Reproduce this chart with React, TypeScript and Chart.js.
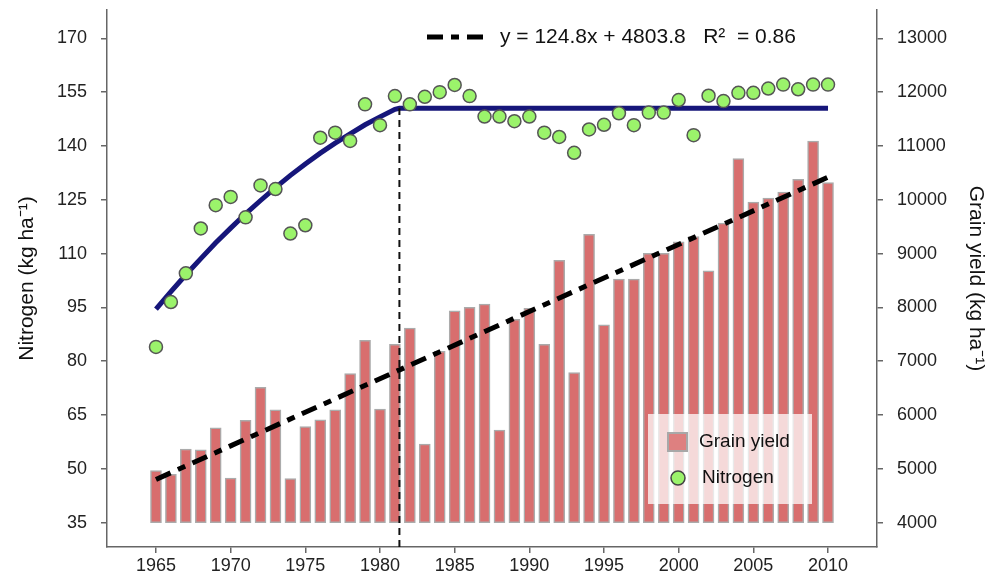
import React, { useEffect, useRef } from 'react';
import { Chart, registerables } from 'chart.js';

Chart.register(...registerables);

// ---------- data ----------
const years = [
  1965, 1966, 1967, 1968, 1969, 1970, 1971, 1972, 1973, 1974,
  1975, 1976, 1977, 1978, 1979, 1980, 1981, 1982, 1983, 1984,
  1985, 1986, 1987, 1988, 1989, 1990, 1991, 1992, 1993, 1994,
  1995, 1996, 1997, 1998, 1999, 2000, 2001, 2002, 2003, 2004,
  2005, 2006, 2007, 2008, 2009, 2010,
];

const grainYield = [
  4970, 4900, 5370, 5355, 5765, 4830, 5900, 6515, 6095, 4820,
  5785, 5910, 6095, 6770, 7390, 6110, 7315, 7615, 5460, 7185,
  7935, 8000, 8060, 5720, 7780, 7985, 7315, 8875, 6790, 9360,
  7675, 8525, 8525, 9005, 9005, 9220, 9315, 8680, 9565, 10765,
  9955, 10030, 10145, 10380, 11090, 10320,
];

const nitrogen = [
  84.0, 96.5, 104.5, 117.0, 123.5, 125.8, 120.1, 129.0, 128.0, 115.6,
  117.9, 142.3, 143.7, 141.4, 151.6, 145.8, 153.9, 151.6, 153.7, 155.0,
  157.0, 153.9, 148.2, 148.2, 146.9, 148.2, 143.7, 142.5, 138.1, 144.6,
  145.9, 149.1, 145.8, 149.3, 149.3, 152.8, 143.0, 154.0, 152.5, 154.8,
  154.8, 156.0, 157.1, 155.8, 157.1, 157.1,
];

// quadratic-plateau fit
const curveYears = [
  1965, 1966, 1967, 1968, 1969, 1970, 1971, 1972, 1973, 1974,
  1975, 1976, 1977, 1978, 1979, 1980, 1981, 1981.3, 2010,
];
const curveValues = [
  94.5, 99.4, 104.1, 108.6, 113.0, 117.1, 121.1, 124.8, 128.4, 131.8,
  135.0, 138.0, 140.8, 143.4, 145.9, 148.1, 150.2, 150.5, 150.5,
];

// yield regression line: y = 124.8x + 4803.8
const regressionYears = [1965, 2010];
const regressionValues = [4803.8, 10419.8];
const regressionLabel = 'y = 124.8x + 4803.8   R\u00B2  = 0.86';

const breakpointYear = 1981.3;
const breakpointTop = 150.5;

const yieldBase = 4000;

const nitrogenTicks = [35, 50, 65, 80, 95, 110, 125, 140, 155, 170];
const yieldTicks = [4000, 5000, 6000, 7000, 8000, 9000, 10000, 11000, 12000, 13000];
const yearTicks = [1965, 1970, 1975, 1980, 1985, 1990, 1995, 2000, 2005, 2010];

const nitrogenMin = 28.23;
const nitrogenMax = 177.89;
const yieldMin = 3548.5;
const yieldMax = 13526;
const yearMin = 1961.72;
const yearMax = 2013.28;

// ---------- styles ----------
const FONT = "'Liberation Sans', Arial, Helvetica, sans-serif";
const BAR_COLOR = 'rgb(216,110,110)';
const BAR_BORDER = '#ababab';
const GREEN = '#9BF36B';
const NAVY = '#16167a';

const legendPlugin = {
  id: 'customLegends',
  afterDatasetsDraw(chart: any) {
    const ctx: CanvasRenderingContext2D = chart.ctx;
    const ds = chart.data.datasets;
    ctx.save();

    // top legend (regression)
    const ly = 37;
    ctx.strokeStyle = '#000';
    ctx.lineWidth = 5;
    ctx.lineCap = 'butt';
    ctx.setLineDash([16, 8, 8, 8]);
    ctx.beginPath();
    ctx.moveTo(427, ly);
    ctx.lineTo(485, ly);
    ctx.stroke();
    ctx.setLineDash([]);
    ctx.fillStyle = '#111';
    ctx.font = `21px ${FONT}`;
    ctx.textBaseline = 'middle';
    ctx.textAlign = 'left';
    ctx.fillText(ds[1].label, 500, ly);

    // bottom-right legend box
    ctx.fillStyle = 'rgba(255,255,255,0.74)';
    ctx.fillRect(648, 414, 164, 90);

    // bar swatch
    ctx.fillStyle = 'rgb(222,128,128)';
    ctx.fillRect(668, 433, 19, 18);
    ctx.strokeStyle = '#a8a8a8';
    ctx.lineWidth = 2;
    ctx.strokeRect(668, 433, 19, 18);
    ctx.fillStyle = '#111';
    ctx.font = `19px ${FONT}`;
    ctx.fillText(ds[0].label, 699, 442);

    // point swatch
    ctx.beginPath();
    ctx.arc(678, 478, 7, 0, Math.PI * 2);
    ctx.fillStyle = GREEN;
    ctx.fill();
    ctx.strokeStyle = '#444';
    ctx.lineWidth = 1.5;
    ctx.stroke();
    ctx.fillStyle = '#111';
    ctx.fillText(ds[4].label, 702, 478);

    ctx.restore();
  },
};

const zeroPadding = (scale: any) => {
  scale.paddingTop = 0;
  scale.paddingBottom = 0;
  scale.paddingLeft = 0;
  scale.paddingRight = 0;
};

export default function App() {
  const ref = useRef<HTMLCanvasElement>(null);

  useEffect(() => {
    document.body.style.margin = '0';
    const canvas = ref.current;
    if (!canvas) return;

    Chart.defaults.font.family = FONT;

    const tickFont = { size: 18, family: FONT };
    const axisBorder = { display: true, color: '#666', width: 1.5 };
    const tickGrid = {
      drawOnChartArea: false,
      drawTicks: true,
      tickLength: 6,
      color: '#666',
      lineWidth: 1.5,
    };

    const chart = new Chart(canvas, {
      type: 'bar',
      data: {
        datasets: [
          {
            type: 'bar',
            label: 'Grain yield',
            data: years.map((x, i) => ({ x, y: [yieldBase, grainYield[i]] })) as any,
            yAxisID: 'y1',
            backgroundColor: BAR_COLOR,
            borderColor: BAR_BORDER,
            borderWidth: 1.5,
            borderSkipped: false,
            barThickness: 11,
            order: 5,
          } as any,
          {
            type: 'line',
            label: regressionLabel,
            data: regressionYears.map((x, i) => ({ x, y: regressionValues[i] })),
            yAxisID: 'y1',
            borderColor: '#000',
            borderWidth: 5,
            borderDash: [16, 8, 8, 8],
            pointRadius: 0,
            tension: 0,
            order: 4,
          } as any,
          {
            type: 'line',
            label: 'Quadratic-plateau',
            data: curveYears.map((x, i) => ({ x, y: curveValues[i] })),
            yAxisID: 'y',
            borderColor: NAVY,
            borderWidth: 5,
            pointRadius: 0,
            tension: 0,
            order: 3,
          } as any,
          {
            type: 'line',
            label: 'Breakpoint',
            data: [
              { x: breakpointYear, y: nitrogenMin },
              { x: breakpointYear, y: breakpointTop },
            ],
            yAxisID: 'y',
            borderColor: '#111',
            borderWidth: 2,
            borderDash: [7, 5],
            pointRadius: 0,
            order: 2,
          } as any,
          {
            type: 'scatter',
            label: 'Nitrogen',
            data: years.map((x, i) => ({ x, y: nitrogen[i] })),
            yAxisID: 'y',
            backgroundColor: GREEN,
            borderColor: '#555',
            borderWidth: 1.5,
            pointRadius: 6.5,
            showLine: false,
            order: 1,
            clip: false,
          } as any,
        ],
      },
      options: {
        animation: false,
        responsive: true,
        maintainAspectRatio: false,
        layout: { padding: { top: 10, left: 0, right: 0, bottom: 0 } },
        plugins: {
          legend: { display: false },
          tooltip: { enabled: false },
          title: { display: false },
        },
        scales: {
          x: {
            type: 'linear',
            position: 'bottom',
            min: yearMin,
            max: yearMax,
            offset: false,
            grid: { ...tickGrid, offset: false },
            border: axisBorder,
            afterBuildTicks: (scale: any) => {
              scale.ticks = yearTicks.map((v) => ({ value: v }));
            },
            afterFit: (scale: any) => {
              scale.height = 30;
              zeroPadding(scale);
            },
            ticks: {
              autoSkip: false,
              maxRotation: 0,
              padding: 2,
              color: '#222',
              font: tickFont,
              callback: (v: any) => String(v),
            },
          },
          y: {
            type: 'linear',
            position: 'left',
            min: nitrogenMin,
            max: nitrogenMax,
            grid: tickGrid,
            border: axisBorder,
            afterBuildTicks: (scale: any) => {
              scale.ticks = nitrogenTicks.map((v) => ({ value: v }));
            },
            afterFit: (scale: any) => {
              scale.width = 107;
              zeroPadding(scale);
            },
            ticks: {
              padding: 14,
              color: '#222',
              font: tickFont,
              callback: (v: any) => String(v),
            },
            title: {
              display: true,
              text: 'Nitrogen (kg ha\u207B\u00B9)',
              color: '#111',
              font: { size: 21, family: FONT },
              padding: { top: 15, bottom: 0 },
            },
          },
          y1: {
            type: 'linear',
            position: 'right',
            min: yieldMin,
            max: yieldMax,
            grid: tickGrid,
            border: axisBorder,
            afterBuildTicks: (scale: any) => {
              scale.ticks = yieldTicks.map((v) => ({ value: v }));
            },
            afterFit: (scale: any) => {
              scale.width = 112;
              zeroPadding(scale);
            },
            ticks: {
              padding: 14,
              color: '#222',
              font: tickFont,
              callback: (v: any) => String(v),
            },
            title: {
              display: true,
              text: 'Grain yield (kg ha\u207B\u00B9)',
              color: '#111',
              font: { size: 21, family: FONT },
              padding: { top: 1, bottom: 0 },
            },
          },
        },
      } as any,
      plugins: [legendPlugin],
    });

    return () => chart.destroy();
  }, []);

  return (
    <div style={{ width: 989, height: 577, position: 'relative' }}>
      <canvas ref={ref} />
    </div>
  );
}
